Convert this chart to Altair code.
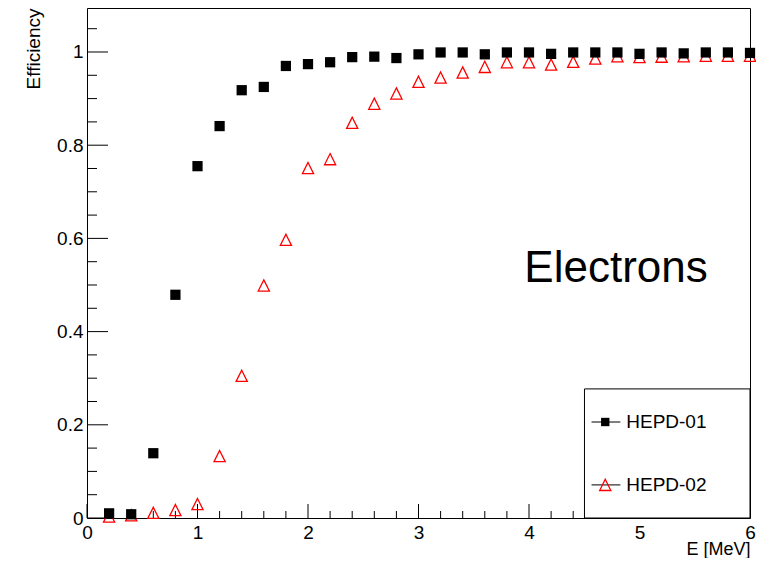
import altair as alt
import pandas as pd

# ---- data ----
energy = [0.2, 0.4, 0.6, 0.8, 1.0, 1.2, 1.4, 1.6, 1.8, 2.0,
          2.2, 2.4, 2.6, 2.8, 3.0, 3.2, 3.4, 3.6, 3.8, 4.0,
          4.2, 4.4, 4.6, 4.8, 5.0, 5.2, 5.4, 5.6, 5.8, 6.0]
hepd01 = [0.010, 0.008, 0.139, 0.479, 0.755, 0.841, 0.918, 0.925, 0.970, 0.974,
          0.978, 0.989, 0.990, 0.987, 0.995, 0.999, 0.999, 0.995, 0.999, 0.999,
          0.996, 0.999, 0.999, 0.999, 0.996, 0.999, 0.997, 0.999, 0.999, 0.998]
hepd02 = [0.003, 0.006, 0.011, 0.017, 0.030, 0.133, 0.305, 0.499, 0.597, 0.751,
          0.770, 0.848, 0.889, 0.911, 0.936, 0.945, 0.956, 0.968, 0.978, 0.978,
          0.973, 0.979, 0.986, 0.991, 0.989, 0.990, 0.991, 0.992, 0.992, 0.992]

x_major = [0, 1, 2, 3, 4, 5, 6]
x_minor = [0.2, 0.4, 0.6, 0.8, 1.2, 1.4, 1.6, 1.8, 2.2, 2.4, 2.6, 2.8,
           3.2, 3.4, 3.6, 3.8, 4.2, 4.4, 4.6, 4.8, 5.2, 5.4, 5.6, 5.8]
y_major = [0, 0.2, 0.4, 0.6, 0.8, 1.0]
y_minor = [0.05, 0.1, 0.15, 0.25, 0.3, 0.35, 0.45, 0.5, 0.55, 0.65, 0.7, 0.75,
           0.85, 0.9, 0.95, 1.05]

series_names = ["HEPD-01", "HEPD-02"]
legend_box_x = [4.502, 6.0]
legend_box_y = [0.0, 0.277]
legend_entry_y = [0.206, 0.071]
legend_line_x = [4.566, 4.827]
legend_marker_x = 4.69
legend_text_x = 4.88

annotation_text = "Electrons"
annotation_pos = [3.958, 0.507]

W, H = 663, 510
FONT = "Liberation Sans"

xscale = alt.Scale(domain=[0, 6], nice=False, zero=False)
yscale = alt.Scale(domain=[0, 1.0944], nice=False, zero=False)

xaxis = alt.Axis(values=x_major, format="d", ticks=False, domain=False, grid=False,
                 labelFont=FONT, labelFontSize=19, labelPadding=5, labelFlush=False,
                 labelOverlap=False, labelColor="black",
                 titleFont=FONT, titleFontSize=18, titleFontWeight="normal",
                 titleColor="black", titleAnchor="end", titleAlign="right",
                 titleX=W, titleY=36, titleBaseline="alphabetic")
yaxis = alt.Axis(values=y_major, format="~g", ticks=False, domain=False, grid=False,
                 labelFont=FONT, labelFontSize=19, labelPadding=4, labelFlush=False,
                 labelOverlap=False, labelColor="black",
                 titleFont=FONT, titleFontSize=19, titleFontWeight="normal",
                 titleColor="black", titleAnchor="end", titleAlign="right",
                 titleAngle=270, titleX=-44, titleY=0, titleBaseline="bottom")


def X(field="x"):
    return alt.X(f"{field}:Q", scale=xscale, axis=xaxis, title="E [MeV]")


def Y(field="y"):
    return alt.Y(f"{field}:Q", scale=yscale, axis=yaxis, title="Efficiency")


TRI = "M0,-1L1,1L-1,1Z"

df01 = pd.DataFrame({"x": energy, "y": hepd01})
df02 = pd.DataFrame({"x": energy, "y": hepd02})

xmaj_df = pd.DataFrame({"x": x_major})
xmin_df = pd.DataFrame({"x": x_minor})
ymaj_df = pd.DataFrame({"y": y_major})
ymin_df = pd.DataFrame({"y": y_minor})

xmaj = alt.Chart(xmaj_df).mark_rule(color="black", strokeWidth=1).encode(
    x=X(), y=alt.value(H), y2=alt.value(H - 14))
xmin = alt.Chart(xmin_df).mark_rule(color="black", strokeWidth=1).encode(
    x=X(), y=alt.value(H), y2=alt.value(H - 7))
ymaj = alt.Chart(ymaj_df).mark_rule(color="black", strokeWidth=1).encode(
    y=Y(), x=alt.value(0), x2=alt.value(21))
ymin = alt.Chart(ymin_df).mark_rule(color="black", strokeWidth=1).encode(
    y=Y(), x=alt.value(0), x2=alt.value(10))

box_df = pd.DataFrame({"x": [legend_box_x[0]], "x2": [legend_box_x[1]],
                       "y": [legend_box_y[0]], "y2": [legend_box_y[1]]})
box = alt.Chart(box_df).mark_rect(fill="white", stroke="black", strokeWidth=1).encode(
    x=X(), x2="x2:Q", y=Y(), y2="y2:Q")

tri = alt.Chart(df02).mark_point(shape=TRI, filled=False, size=125, color="red",
                                 strokeWidth=1.3, opacity=1).encode(x=X(), y=Y())
sq = alt.Chart(df01).mark_point(shape="square", filled=True, size=105, color="black",
                                opacity=1).encode(x=X(), y=Y())

leg_lines_df = pd.DataFrame({"x": [legend_line_x[0]] * 2, "x2": [legend_line_x[1]] * 2,
                             "y": legend_entry_y})
leg_lines = alt.Chart(leg_lines_df).mark_rule(color="black", strokeWidth=1).encode(
    x=X(), x2="x2:Q", y=Y())
leg_sq = alt.Chart(pd.DataFrame({"x": [legend_marker_x], "y": [legend_entry_y[0]]})).mark_point(
    shape="square", filled=True, size=70, color="black", opacity=1).encode(x=X(), y=Y())
leg_tri = alt.Chart(pd.DataFrame({"x": [legend_marker_x], "y": [legend_entry_y[1]]})).mark_point(
    shape=TRI, filled=False, size=125, color="red", strokeWidth=1.3, opacity=1).encode(x=X(), y=Y())
leg_text = alt.Chart(pd.DataFrame({"x": [legend_text_x] * 2, "y": legend_entry_y,
                                   "t": series_names})).mark_text(
    align="left", baseline="middle", font=FONT, fontSize=19, color="black").encode(
    x=X(), y=Y(), text="t:N")

ann = alt.Chart(pd.DataFrame({"x": [annotation_pos[0]], "y": [annotation_pos[1]],
                              "t": [annotation_text]})).mark_text(
    align="left", baseline="alphabetic", font=FONT, fontSize=44, color="black").encode(
    x=X(), y=Y(), text="t:N")

chart = alt.layer(xmaj, xmin, ymaj, ymin, tri, sq, box, leg_lines, leg_sq, leg_tri,
                  leg_text, ann).properties(
    width=W, height=H,
    autosize=alt.AutoSizeParams(type="none"),
    padding={"left": 79, "top": 0, "right": 6, "bottom": 40},
    background="white",
).configure_view(stroke="black", strokeWidth=1)

chart.save("out.html", embed_options={"renderer": "svg", "actions": False})
